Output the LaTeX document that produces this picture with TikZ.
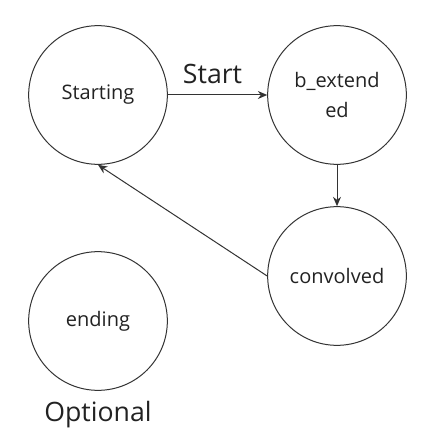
\documentclass[tikz,border=0pt]{standalone}
\usepackage{fontspec}
\setmainfont{Open Sans}
\usepackage{tikz}
\usetikzlibrary{arrows.meta, positioning}
\definecolor{lineg}{RGB}{51, 51, 51}
\definecolor{textg}{RGB}{34, 34, 34}

\begin{document}
\begin{tikzpicture}[
  x=0.75pt, y=-0.75pt,
  state/.style={draw=lineg, line width=0.75pt, circle, minimum size=104pt, inner sep=0pt, align=center, text=textg, font=\fontsize{15}{22.5}\selectfont},
  big/.style={text=textg, font=\fontsize{20}{24}\selectfont},
  conn/.style={draw=lineg, line width=0.75pt, -{Stealth[length=7pt, width=6pt]}}
]
  \useasboundingbox (0, 0) rectangle (436, 441);

  \node[state] (starting) at (98, 95) {Starting};
  \node[state] (bext) at (337, 95) {b\_extend\\ed};
  \node[state] (convolved) at (337, 276) {convolved};
  \node[state] (ending) at (98, 321) {ending};
  \node[big, below=4pt of ending] (opt) {Optional};

  \draw[conn] (starting) -- node[big, above=5pt, pos=0.45] (startlbl) {Start} (bext);
  \draw[conn] (bext) -- (convolved);
  \draw[conn] (convolved.west) -- (starting.south);
\end{tikzpicture}
\end{document}
